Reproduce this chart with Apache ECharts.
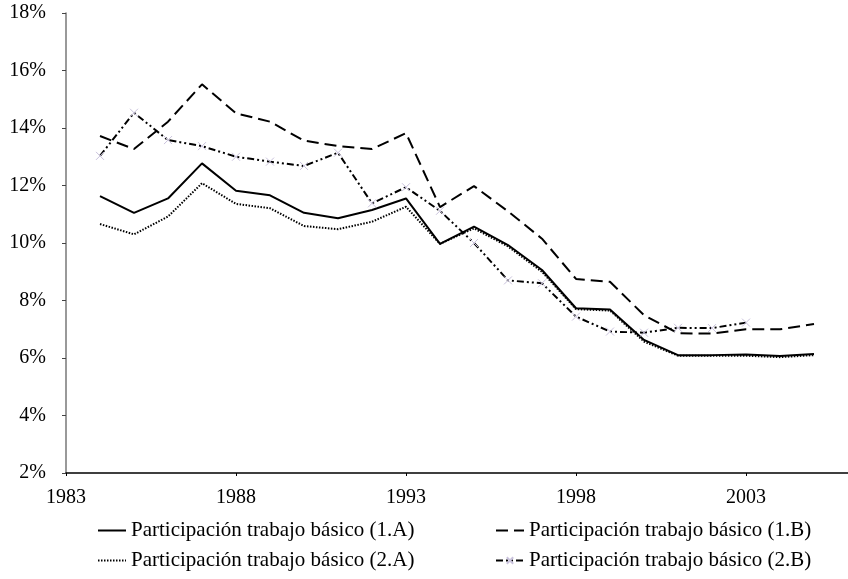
<!DOCTYPE html>
<html>
<head>
<meta charset="utf-8">
<script src="https://cdn.jsdelivr.net/npm/echarts@6/dist/echarts.min.js"></script>
<style>
html, body { margin: 0; padding: 0; background: #fff; }
#chart { width: 848px; height: 579px; }
</style>
</head>
<body>
<div id="chart"></div>
<script>
var years = [1984, 1985, 1986, 1987, 1988, 1989, 1990, 1991, 1992, 1993, 1994,
             1995, 1996, 1997, 1998, 1999, 2000, 2001, 2002, 2003, 2004, 2005];

var part1A = [11.63, 11.05, 11.55, 12.77, 11.82, 11.66, 11.05, 10.86, 11.15, 11.55, 9.97,
              10.57, 9.93, 9.06, 7.73, 7.69, 6.63, 6.10, 6.10, 6.12, 6.07, 6.14];
var part2A = [10.66, 10.30, 10.92, 12.08, 11.36, 11.21, 10.59, 10.48, 10.74, 11.26, 9.97,
              10.51, 9.88, 9.00, 7.70, 7.65, 6.57, 6.08, 6.08, 6.08, 6.03, 6.10];
var part1B = [13.72, 13.27, 14.22, 15.52, 14.51, 14.22, 13.56, 13.37, 13.27, 13.82, 11.25,
              11.98, 11.10, 10.15, 8.75, 8.65, 7.49, 6.86, 6.85, 7.00, 7.00, 7.18];
var part2B = [13.03, 14.53, 13.58, 13.37, 13.00, 12.83, 12.68, 13.14, 11.38, 11.94, 11.12,
              10.00, 8.70, 8.60, 7.44, 6.92, 6.88, 7.05, 7.04, 7.23, null, null];

var names = [
  'Participación trabajo básico (1.A)',
  'Participación trabajo básico (1.B)',
  'Participación trabajo básico (2.A)',
  'Participación trabajo básico (2.B)'
];

var serif = "'Liberation Serif', 'Times New Roman', serif";

function pairs(vals) {
  var out = [];
  for (var i = 0; i < years.length; i++) {
    if (vals[i] != null) out.push([years[i], vals[i]]);
  }
  return out;
}

// one legend per entry so they sit in two columns
function legendAt(name, left, top, hideSymbol) {
  var lg = {
    data: [name],
    left: left,
    top: top,
    orient: 'horizontal',
    itemWidth: 28,
    itemHeight: 8,
    padding: 0,
    textStyle: { fontFamily: serif, fontSize: 21, color: '#000' }
  };
  if (hideSymbol) lg.itemStyle = { opacity: 0 };
  return lg;
}

var chart = echarts.init(document.getElementById('chart'));
chart.setOption({
  animation: false,
  backgroundColor: '#fff',
  grid: { left: 66, right: 0, top: 13, bottom: 106 },
  legend: [
    legendAt(names[0], 97, 520, true),
    legendAt(names[1], 495, 520, true),
    legendAt(names[2], 97, 550, true),
    legendAt(names[3], 495, 550, false)
  ],
  xAxis: {
    type: 'value',
    min: 1983,
    max: 2006,
    interval: 5,
    axisLine: { lineStyle: { color: '#000', width: 1.5 } },
    axisTick: { show: true, length: 3, lineStyle: { color: '#000' } },
    axisLabel: {
      showMaxLabel: false,
      margin: 15,
      fontFamily: serif,
      fontSize: 20,
      color: '#000',
      formatter: function (v) { return String(v); }
    },
    splitLine: { show: false }
  },
  yAxis: {
    type: 'value',
    min: 2,
    max: 18,
    interval: 2,
    axisLine: { show: true, lineStyle: { color: '#777', width: 1.5 } },
    axisTick: { show: true, length: 4, lineStyle: { color: '#444' } },
    axisLabel: {
      margin: 20,
      fontFamily: serif,
      fontSize: 20,
      color: '#000',
      formatter: '{value}%'
    },
    splitLine: { show: false }
  },
  series: [
    {
      name: names[0], type: 'line', data: pairs(part1A), symbol: 'none',
      lineStyle: { color: '#000', width: 2, type: 'solid' },
      itemStyle: { color: '#000' }
    },
    {
      name: names[1], type: 'line', data: pairs(part1B), symbol: 'none',
      lineStyle: { color: '#000', width: 2, type: [12, 6] },
      itemStyle: { color: '#000' }
    },
    {
      name: names[2], type: 'line', data: pairs(part2A), symbol: 'none',
      lineStyle: { color: '#000', width: 2, type: [1.5, 1.5] },
      itemStyle: { color: '#000' }
    },
    {
      name: names[3], type: 'line', data: pairs(part2B),
      symbol: 'path://M0,0L10,10M10,0L0,10', symbolSize: 8, showAllSymbol: true,
      lineStyle: { color: '#000', width: 2, type: [7, 3, 2, 3, 2, 3] },
      itemStyle: { color: 'none', borderColor: '#c9c2dc', borderWidth: 1 }
    }
  ]
});
</script>
</body>
</html>
